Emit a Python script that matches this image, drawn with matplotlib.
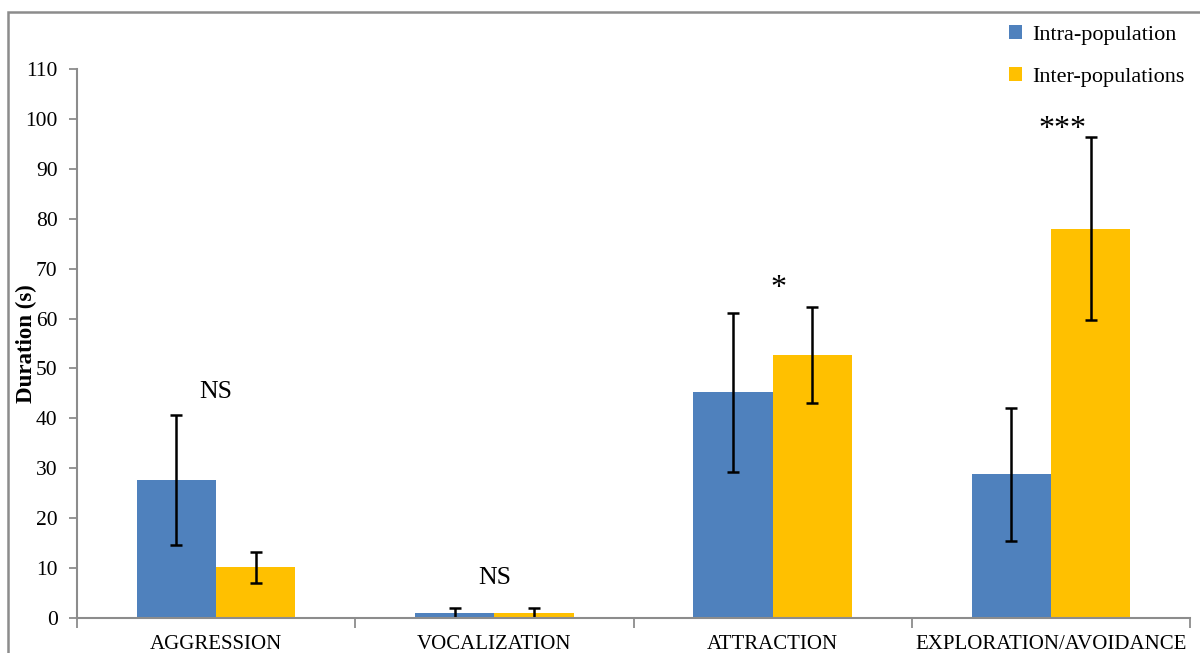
import matplotlib
matplotlib.use("Agg")
import matplotlib.pyplot as plt
from matplotlib.patches import Patch, Rectangle
import numpy as np

categories = ["AGGRESSION", "VOCALIZATION", "ATTRACTION", "EXPLORATION/AVOIDANCE"]
series_names = ["Intra-population", "Inter-populations"]
intra_mean = [27.7, 1.0, 45.2, 28.8]
intra_err = [13.0, 1.0, 16.0, 13.3]
inter_mean = [10.2, 1.0, 52.7, 78.0]
inter_err = [3.1, 1.0, 9.6, 18.3]
significance = ["NS", "NS", "*", "***"]
sig_y = [45.2, 8.0, 66.0, 97.8]
sig_dx = [0.0, 0.0, 0.02, 0.04]
yticks = list(range(0, 111, 10))

plt.rcParams["font.family"] = ["Liberation Serif", "DejaVu Serif"]

blue = "#4F81BD"
gold = "#FFC000"
spine_gray = "#8C8C8C"

fig = plt.figure(figsize=(12, 6.53), dpi=100)
ax = fig.add_axes([77 / 1200, 35 / 653, 1113 / 1200, 549 / 653])

x = np.arange(len(categories))
w = 0.285
err_kw = dict(ecolor="black", elinewidth=1.8, capsize=4.3, capthick=1.8)
ax.bar(x - w / 2, intra_mean, w, yerr=intra_err, color=blue,
       label=series_names[0], error_kw=err_kw, zorder=2)
ax.bar(x + w / 2, inter_mean, w, yerr=inter_err, color=gold,
       label=series_names[1], error_kw=err_kw, zorder=2)

for i, (s, y) in enumerate(zip(significance, sig_y)):
    size = 18.5 if s == "NS" else 23
    ax.text(i + sig_dx[i], y, s, ha="center", va="center",
            fontsize=size, color="black")

ax.set_xlim(-0.5, len(categories) - 0.5)
ax.set_ylim(0, 110)
ax.set_yticks(yticks)
ax.set_xticks(x)
ax.set_xticklabels(categories, fontsize=15)
ax.set_xticks(np.arange(-0.5, len(categories)), minor=True)
ax.tick_params(axis="x", which="major", length=0, pad=12)
ax.tick_params(axis="x", which="minor", length=7, width=1.3, color=spine_gray,
               direction="out")
ax.tick_params(axis="y", labelsize=15.5, length=6, width=1.3, color=spine_gray,
               direction="out", pad=8)
for side in ("top", "right"):
    ax.spines[side].set_visible(False)
for side in ("left", "bottom"):
    ax.spines[side].set_color(spine_gray)
    ax.spines[side].set_linewidth(1.5)

ax.set_ylabel("Duration (s)", fontsize=16.5, fontweight="bold")
ax.yaxis.set_label_coords(-0.036, 0.5)

handles = [Patch(facecolor=blue, edgecolor="none"),
           Patch(facecolor=gold, edgecolor="none")]
fig.legend(handles, series_names, loc="upper left",
           bbox_to_anchor=(1000 / 1200, 1 - 16 / 653), frameon=False,
           fontsize=16, handlelength=0.6, handleheight=0.6, handletextpad=0.45,
           labelspacing=1.0, borderaxespad=0)

# outer chart frame
fig.add_artist(Rectangle((8 / 1200, -0.05), 1.2, 1 - 12 / 653 + 0.05,
                         transform=fig.transFigure, fill=False,
                         edgecolor=spine_gray, linewidth=1.8))

fig.savefig("out.png", dpi=100)
